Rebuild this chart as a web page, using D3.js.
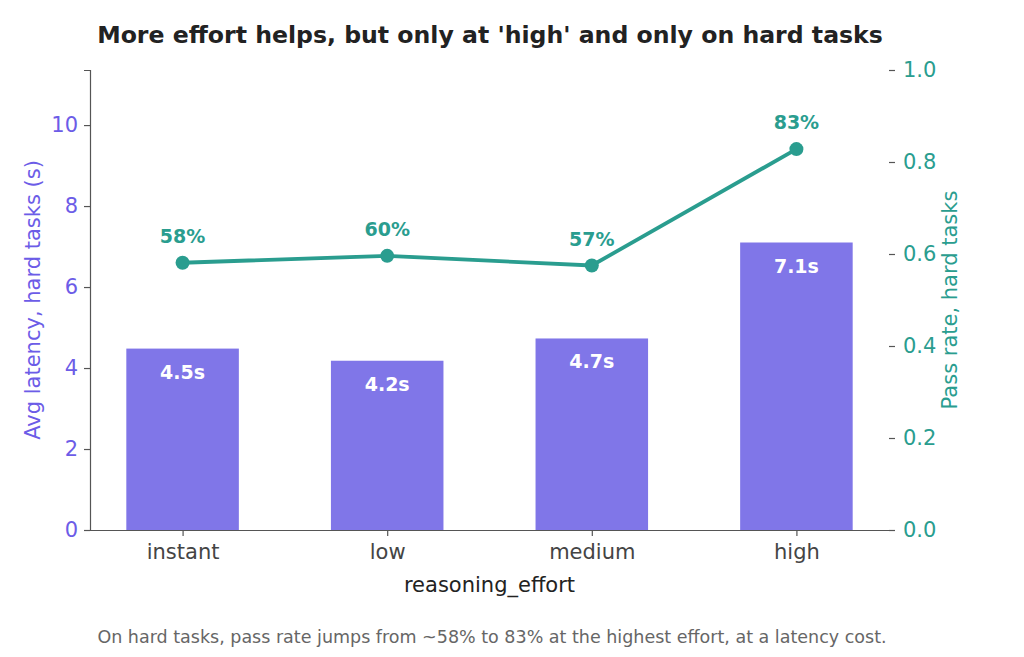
<!DOCTYPE html>
<html>
<head>
<meta charset="utf-8">
<script src="https://cdn.jsdelivr.net/npm/d3@7"></script>
<style>
  body { margin: 0; background: #fff; overflow: hidden; }
  svg { display: block; font-family: 'DejaVu Sans', sans-serif; }
</style>
</head>
<body>
<div id="chart"></div>
<script>
const efforts = ['instant', 'low', 'medium', 'high'];
const latency = [4.48, 4.18, 4.73, 7.1];
const latencyLabels = ['4.5s', '4.2s', '4.7s', '7.1s'];
const passRate = [0.581, 0.596, 0.575, 0.828];
const passLabels = ['58%', '60%', '57%', '83%'];
const latencyTicks = [0, 2, 4, 6, 8, 10];
const passTicks = [0, 0.2, 0.4, 0.6, 0.8, 1.0];

const width = 1024, height = 657;
const margin = { top: 70, right: 135, bottom: 127, left: 90 };
const innerWidth = width - margin.left - margin.right;
const innerHeight = height - margin.top - margin.bottom;

const barColor = '#8076e8';
const leftColor = '#6c5ce7';
const lineColor = '#2a9d8f';
const BAR_W = 0.55;

const svg = d3.select('#chart')
  .append('svg')
  .attr('width', width)
  .attr('height', height)
  .attr('viewBox', `0 0 ${width} ${height}`);

const g = svg.append('g')
  .attr('transform', `translate(${margin.left},${margin.top})`);

// categorical positions behave like matplotlib: index with 5% margin
const pad = (efforts.length - 1 + BAR_W) * 0.05;
const xScale = d3.scaleLinear()
  .domain([-BAR_W / 2 - pad, efforts.length - 1 + BAR_W / 2 + pad])
  .range([0, innerWidth]);

const yLeft = d3.scaleLinear()
  .domain([0, d3.max(latency) * 1.6])
  .range([innerHeight, 0]);

const yRight = d3.scaleLinear()
  .domain([0, 1])
  .range([innerHeight, 0]);

// bars
g.selectAll('.bar')
  .data(latency)
  .enter()
  .append('rect')
  .attr('class', 'bar')
  .attr('x', (d, i) => xScale(i - BAR_W / 2))
  .attr('width', xScale(BAR_W) - xScale(0))
  .attr('y', d => yLeft(d))
  .attr('height', d => innerHeight - yLeft(d))
  .attr('fill', barColor);

g.selectAll('.bar-label')
  .data(latency)
  .enter()
  .append('text')
  .attr('x', (d, i) => xScale(i))
  .attr('y', d => yLeft(d) + 30)
  .attr('text-anchor', 'middle')
  .attr('font-size', 19)
  .attr('font-weight', 'bold')
  .attr('fill', '#fff')
  .text((d, i) => latencyLabels[i]);

function styleAxis(sel, color) {
  sel.attr('font-size', 21).attr('font-family', 'DejaVu Sans, sans-serif');
  sel.select('.domain').attr('stroke', '#555').attr('stroke-width', 1.2);
  sel.selectAll('.tick line').attr('stroke', '#555').attr('stroke-width', 1.2);
  sel.selectAll('.tick text').attr('fill', color);
}

// left axis
const leftAxis = g.append('g')
  .call(d3.axisLeft(yLeft).tickValues(latencyTicks).tickSize(6).tickPadding(6));
styleAxis(leftAxis, leftColor);

// bottom axis
const bottomAxis = g.append('g')
  .attr('transform', `translate(0,${innerHeight})`)
  .call(d3.axisBottom(xScale)
    .tickValues(d3.range(efforts.length))
    .tickFormat(i => efforts[i])
    .tickSize(6).tickPadding(8).tickSizeOuter(0));
styleAxis(bottomAxis, '#444');

// right axis, no spine
const rightAxis = g.append('g')
  .attr('transform', `translate(${innerWidth},0)`)
  .call(d3.axisRight(yRight).tickValues(passTicks)
    .tickFormat(d3.format('.1f')).tickSize(6).tickPadding(8));
styleAxis(rightAxis, lineColor);
rightAxis.select('.domain').remove();

// pass rate line
const line = d3.line()
  .x((d, i) => xScale(i))
  .y(d => yRight(d));

g.append('path')
  .datum(passRate)
  .attr('fill', 'none')
  .attr('stroke', lineColor)
  .attr('stroke-width', 3.8)
  .attr('d', line);

g.selectAll('.dot')
  .data(passRate)
  .enter()
  .append('circle')
  .attr('cx', (d, i) => xScale(i))
  .attr('cy', d => yRight(d))
  .attr('r', 7)
  .attr('fill', lineColor);

g.selectAll('.pass-label')
  .data(passRate)
  .enter()
  .append('text')
  .attr('x', (d, i) => xScale(i))
  .attr('y', d => yRight(d) - 20)
  .attr('text-anchor', 'middle')
  .attr('font-size', 19)
  .attr('font-weight', 'bold')
  .attr('fill', lineColor)
  .text((d, i) => passLabels[i]);

// axis titles
g.append('text')
  .attr('transform', 'rotate(-90)')
  .attr('x', -innerHeight / 2)
  .attr('y', -50)
  .attr('text-anchor', 'middle')
  .attr('font-size', 21)
  .attr('fill', leftColor)
  .text('Avg latency, hard tasks (s)');

g.append('text')
  .attr('transform', 'rotate(-90)')
  .attr('x', -innerHeight / 2)
  .attr('y', innerWidth + 68)
  .attr('text-anchor', 'middle')
  .attr('font-size', 21)
  .attr('fill', lineColor)
  .text('Pass rate, hard tasks');

g.append('text')
  .attr('x', innerWidth / 2)
  .attr('y', innerHeight + 62)
  .attr('text-anchor', 'middle')
  .attr('font-size', 21)
  .attr('fill', '#222')
  .text('reasoning_effort');

svg.append('text')
  .attr('x', 490)
  .attr('y', 43)
  .attr('text-anchor', 'middle')
  .attr('font-size', 23.6)
  .attr('font-weight', 'bold')
  .attr('fill', '#222')
  .text("More effort helps, but only at 'high' and only on hard tasks");

svg.append('text')
  .attr('x', 492)
  .attr('y', 643)
  .attr('text-anchor', 'middle')
  .attr('font-size', 17.5)
  .attr('fill', '#666')
  .text('On hard tasks, pass rate jumps from ~58% to 83% at the highest effort, at a latency cost.');
</script>
</body>
</html>
